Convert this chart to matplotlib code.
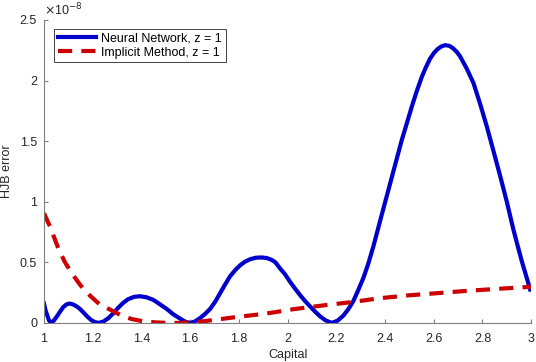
import numpy as np
import matplotlib.pyplot as plt
from matplotlib.ticker import FuncFormatter

plt.rcParams['font.family'] = ['Liberation Sans', 'DejaVu Sans']

# values, y in units of 1e-8
capital_nn = [1.000, 1.007, 1.014, 1.021, 1.029, 1.040, 1.052, 1.065, 1.079, 1.092,
              1.105, 1.120, 1.135, 1.148, 1.165, 1.180, 1.195, 1.210, 1.225, 1.245,
              1.265, 1.285, 1.305, 1.325, 1.345, 1.370, 1.394, 1.420, 1.449, 1.475,
              1.504, 1.530, 1.559, 1.580, 1.600, 1.620, 1.641, 1.662, 1.682, 1.703,
              1.723, 1.743, 1.764, 1.785, 1.805, 1.825, 1.846, 1.870, 1.894, 1.915,
              1.935, 1.950, 1.969, 1.990, 2.010, 2.030, 2.051, 2.072, 2.092, 2.112,
              2.133, 2.155, 2.181, 2.205, 2.229, 2.250, 2.270, 2.290, 2.311, 2.330,
              2.352, 2.385, 2.421, 2.445, 2.469, 2.490, 2.510, 2.530, 2.551, 2.568,
              2.585, 2.600, 2.615, 2.630, 2.647, 2.665, 2.680, 2.695, 2.708, 2.735,
              2.763, 2.790, 2.818, 2.845, 2.873, 2.900, 2.927, 2.960, 2.996]
hjb_nn = [0.160, 0.100, 0.060, 0.020, 0.000, 0.018, 0.050, 0.090, 0.130, 0.152,
          0.160, 0.152, 0.135, 0.115, 0.080, 0.048, 0.022, 0.006, 0.000, 0.012,
          0.040, 0.080, 0.125, 0.165, 0.195, 0.215, 0.220, 0.212, 0.190, 0.155,
          0.115, 0.072, 0.035, 0.010, 0.000, 0.012, 0.040, 0.075, 0.115, 0.175,
          0.245, 0.315, 0.385, 0.435, 0.475, 0.505, 0.525, 0.538, 0.540, 0.535,
          0.520, 0.500, 0.450, 0.400, 0.340, 0.285, 0.230, 0.180, 0.137, 0.095,
          0.055, 0.022, 0.000, 0.018, 0.060, 0.115, 0.180, 0.270, 0.370, 0.480,
          0.630, 0.880, 1.150, 1.330, 1.510, 1.650, 1.785, 1.910, 2.030, 2.110,
          2.180, 2.225, 2.258, 2.280, 2.292, 2.285, 2.265, 2.235, 2.200, 2.100,
          1.980, 1.810, 1.620, 1.420, 1.210, 1.000, 0.770, 0.520, 0.275]

capital_im = [1.000, 1.025, 1.059, 1.085, 1.114, 1.150, 1.189, 1.230, 1.271, 1.319,
              1.360, 1.408, 1.460, 1.510, 1.558, 1.600, 1.661, 1.720, 1.784, 1.840,
              1.900, 1.960, 2.024, 2.090, 2.161, 2.257, 2.380, 2.500, 2.613, 2.740,
              2.870, 3.000]
hjb_im = [0.905, 0.795, 0.615, 0.505, 0.410, 0.310, 0.225, 0.150, 0.110, 0.060,
          0.032, 0.013, 0.004, 0.000, 0.000, 0.004, 0.015, 0.030, 0.047, 0.060,
          0.074, 0.092, 0.113, 0.130, 0.148, 0.170, 0.204, 0.228, 0.245, 0.265,
          0.282, 0.298]

xticks = [1, 1.2, 1.4, 1.6, 1.8, 2, 2.2, 2.4, 2.6, 2.8, 3]
yticks = [0, 0.5, 1, 1.5, 2, 2.5]
scale = 1e-8

fig = plt.figure(figsize=(5.36, 3.62), dpi=100)
ax = fig.add_axes([0.082, 0.108, 0.909, 0.837])

ax.plot(capital_nn, np.array(hjb_nn) * scale, color='#0000cc', lw=3,
        solid_joinstyle='round', label='Neural Network, z = 1')
ax.plot(capital_im, np.array(hjb_im) * scale, color='#cc0000', lw=3,
        dashes=(3.4, 2.2), label='Implicit Method, z = 1')

ax.set_xlim(1, 3)
ax.set_ylim(0, 2.5 * scale)
ax.set_xticks(xticks)
ax.set_yticks([t * scale for t in yticks])
ax.xaxis.set_major_formatter(FuncFormatter(lambda v, p: '%g' % round(v, 3)))
ax.yaxis.set_major_formatter(FuncFormatter(lambda v, p: '%g' % round(v / scale, 3)))

for s in ['top', 'right']:
    ax.spines[s].set_visible(False)
for s in ['left', 'bottom']:
    ax.spines[s].set_color('#808080')
    ax.spines[s].set_linewidth(0.8)
ax.tick_params(direction='in', length=3, width=0.8, color='#808080',
               labelcolor='#262626', labelsize=9, pad=5)
ax.tick_params(axis='x', pad=7)

ax.set_xlabel('Capital', fontsize=9, color='#262626', labelpad=3)
ax.set_ylabel('HJB error', fontsize=9, color='#262626', labelpad=5)
ax.text(0.0, 1.005, r'$\times$10$^{-8}$', transform=ax.transAxes, fontsize=9,
        color='#262626', ha='left', va='bottom')

leg = ax.legend(loc='upper left', bbox_to_anchor=(0.0205, 0.97), borderaxespad=0,
                fontsize=9, handlelength=3.1, handletextpad=0.4, labelspacing=0.15,
                borderpad=0.3, fancybox=False, framealpha=1, edgecolor='#262626')
leg.get_frame().set_linewidth(0.6)

fig.savefig('out.png', dpi=100)
